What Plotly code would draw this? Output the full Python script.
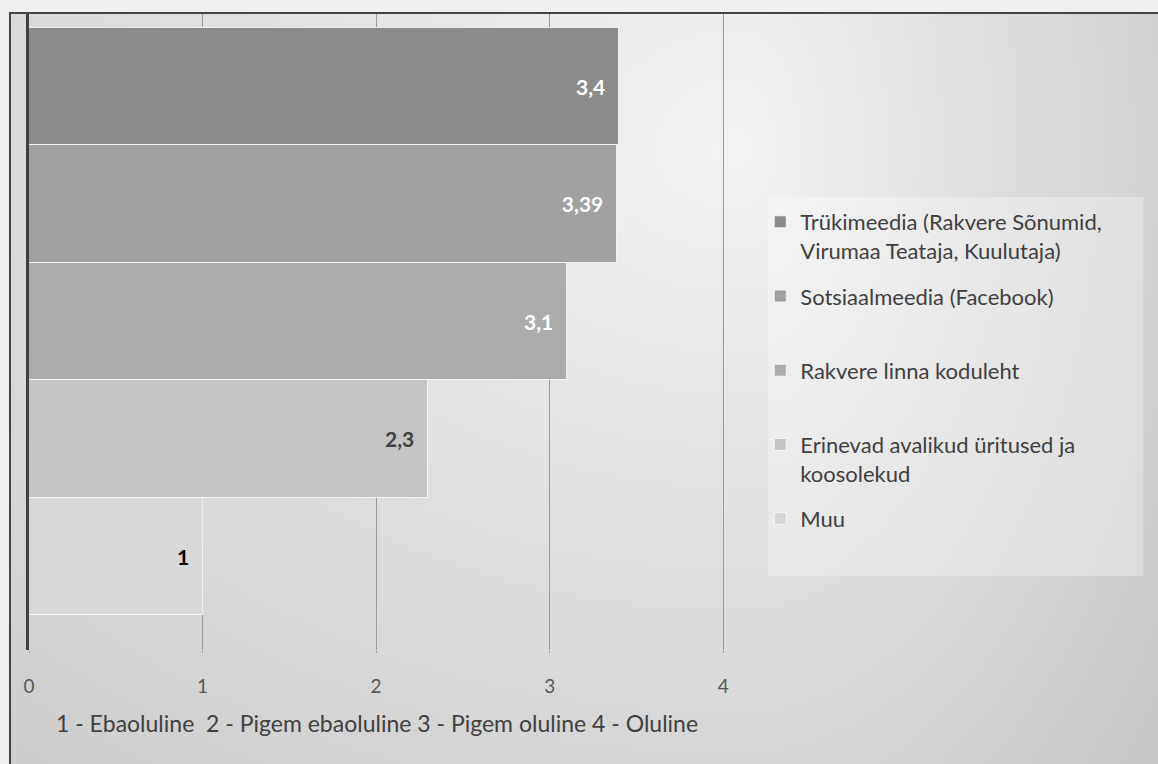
import math
import plotly.graph_objects as go

# ---------------- data ----------------
categories = [
    "Trükimeedia (Rakvere Sõnumid, Virumaa Teataja, Kuulutaja)",
    "Sotsiaalmeedia (Facebook)",
    "Rakvere linna koduleht",
    "Erinevad avalikud üritused ja koosolekud",
    "Muu",
]
legend_labels = [
    "Trükimeedia (Rakvere Sõnumid,<br>Virumaa Teataja, Kuulutaja)",
    "Sotsiaalmeedia (Facebook)<br>&nbsp;",
    "Rakvere linna koduleht<br>&nbsp;",
    "Erinevad avalikud üritused ja<br>koosolekud",
    "Muu",
]
values = [3.4, 3.39, 3.1, 2.3, 1]
x_ticks = [0, 1, 2, 3, 4]
x_title = "1 - Ebaoluline  2 - Pigem ebaoluline 3 - Pigem oluline 4 - Oluline"

# ---------------- styles ----------------
bar_colors = ["#8b8b8b", "#a1a1a1", "#acacac", "#c4c4c4", "#d8d8d8"]
label_colors = ["#ffffff", "#ffffff", "#ffffff", "#404040", "#000000"]
FONT = "Lato"

W, H = 1158, 764
X_MAX = 4.01
ML, MT, MB = 29, 14, 114
PW = 694 * X_MAX / 4
MR = W - ML - PW
PH = H - MT - MB


def px(xp):
    return (xp - ML) / PW


def py(yp):
    return (H - MB - yp) / PH


def fmt(v):
    return f"{v:g}".replace(".", ",")


fig = go.Figure()
for name, leg, v, c, lc in zip(categories, legend_labels, values, bar_colors, label_colors):
    fig.add_trace(go.Bar(
        x=[v], y=["Hinnang"], orientation="h", name=leg,
        legendgroup=name,
        marker=dict(color=c, line=dict(color="rgba(255,255,255,0.75)", width=1)),
        text=[fmt(v) + "\u00a0\u00a0"], textposition="inside", insidetextanchor="end",
        textangle=0, constraintext="none",
        insidetextfont=dict(family=FONT, size=21, color=lc, weight="bold"),
        hovertemplate=name + ": %{x}<extra></extra>",
    ))

# ---------------- background gradient (decorative) ----------------
shapes = []
cx, cy = 740, 150
Lmax, Rmax, Tmax, Bmax = 1430, 600, 1200, 1000
levels = 55
for i in range(levels, 0, -1):
    t = i / 50.0
    g = int(round(max(186, min(243, 243 - 47 * t))))
    pts = []
    for k in range(72):
        a = 2 * math.pi * k / 72
        ca, sa = math.cos(a), math.sin(a)
        dx = ca * (Rmax if ca > 0 else Lmax) * t
        dy = sa * (Bmax if sa > 0 else Tmax) * t
        pts.append(f"{px(cx + dx):.5f},{py(cy + dy):.5f}")
    path = "M" + " L".join(pts) + " Z"
    col = f"rgb({g},{g},{g})"
    shapes.append(dict(type="path", path=path, xref="paper", yref="paper",
                       fillcolor=col, line=dict(width=0), layer="below"))

# legend box
shapes.append(dict(type="rect", xref="paper", yref="paper",
                   x0=px(768), x1=px(1143), y0=py(576), y1=py(197),
                   fillcolor="rgba(255,255,255,0.3)", line=dict(width=0), layer="below"))
# outer page margin strips
shapes.append(dict(type="rect", xref="paper", yref="paper",
                   x0=px(-20), x1=px(9), y0=py(H + 20), y1=py(-20),
                   fillcolor="#efefef", line=dict(width=0), layer="below"))
shapes.append(dict(type="rect", xref="paper", yref="paper",
                   x0=px(-20), x1=px(W + 20), y0=py(12), y1=py(-20),
                   fillcolor="#efefef", line=dict(width=0), layer="below"))
# chart box border
shapes.append(dict(type="line", xref="paper", yref="paper",
                   x0=px(10), x1=px(10), y0=py(H + 20), y1=py(12),
                   line=dict(color="#444444", width=2), layer="below"))
shapes.append(dict(type="line", xref="paper", yref="paper",
                   x0=px(9), x1=px(W + 20), y0=py(13), y1=py(13),
                   line=dict(color="#444444", width=2), layer="below"))

bar_px = 587.0
y_lo = 0.5 + 35 / bar_px
y_hi = -0.5 - 14 / bar_px

fig.update_layout(
    width=W, height=H, autosize=False,
    margin=dict(l=ML, r=MR, t=MT, b=MB, pad=0),
    paper_bgcolor="#efefef", plot_bgcolor="rgba(0,0,0,0)",
    barmode="group", bargap=0, bargroupgap=0,
    font=dict(family=FONT, size=18, color="#595959"),
    separators=", ",
    shapes=shapes,
    showlegend=True,
    legend=dict(
        x=px(760), y=py(201), xanchor="left", yanchor="top",
        bgcolor="rgba(0,0,0,0)", borderwidth=0,
        font=dict(family=FONT, size=22, color="#404040"),
        tracegroupgap=14, valign="top", traceorder="grouped",
    ),
    xaxis=dict(
        range=[0, X_MAX], tickvals=x_ticks, ticktext=[str(t) for t in x_ticks],
        showgrid=True, gridcolor="#9a9a9a", gridwidth=1,
        zeroline=False, showline=False,
        ticks="outside", ticklen=2, tickcolor="#9a9a9a",
        ticklabelstandoff=17,
        tickfont=dict(family=FONT, size=19, color="#595959"),
        title=dict(text=x_title, standoff=20,
                   font=dict(family=FONT, size=23, color="#404040")),
        fixedrange=True,
    ),
    yaxis=dict(
        type="category", range=[y_lo, y_hi], showticklabels=False,
        showgrid=False, zeroline=False,
        showline=True, linecolor="#404040", linewidth=3,
        ticks="", fixedrange=True,
    ),
)

fig.write_html("out.html", config={"displayModeBar": False},
               post_script="document.body.style.margin='0px';")
